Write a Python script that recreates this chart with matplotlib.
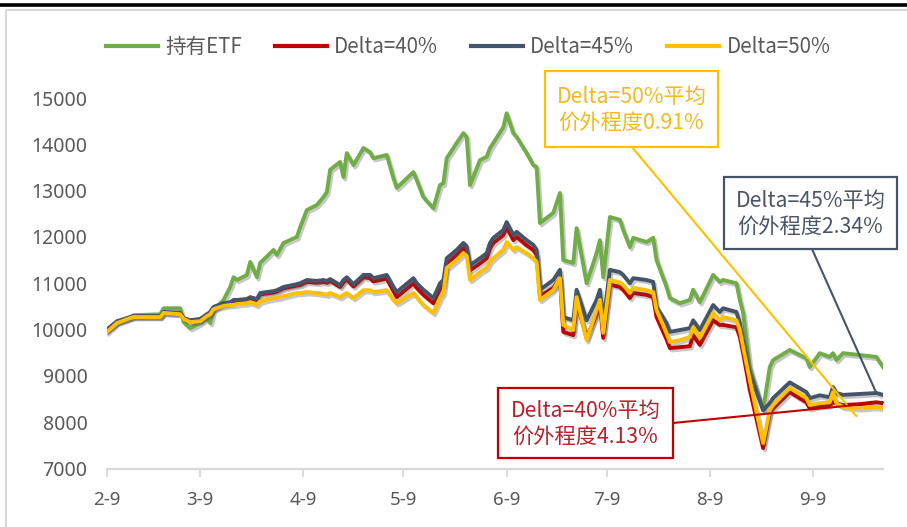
import matplotlib
matplotlib.use("Agg")
import matplotlib.pyplot as plt
import matplotlib.patheffects as pe
import matplotlib.dates as mdates
from matplotlib.patches import Rectangle, ConnectionPatch
from matplotlib.lines import Line2D
import pandas as pd

# ---- data -------------------------------------------------------------
dates = [
    "2015-02-09", "2015-02-12", "2015-02-16", "2015-02-17", "2015-02-25", "2015-02-26",
    "2015-03-03", "2015-03-04", "2015-03-06", "2015-03-09", "2015-03-11", "2015-03-12",
    "2015-03-13", "2015-03-16", "2015-03-18", "2015-03-19", "2015-03-20", "2015-03-23",
    "2015-03-24", "2015-03-26", "2015-03-27", "2015-03-31", "2015-04-01", "2015-04-03",
    "2015-04-07", "2015-04-08", "2015-04-10", "2015-04-13", "2015-04-15", "2015-04-16",
    "2015-04-17", "2015-04-20", "2015-04-21", "2015-04-22", "2015-04-24", "2015-04-27",
    "2015-04-29", "2015-04-30", "2015-05-04", "2015-05-06", "2015-05-07", "2015-05-12",
    "2015-05-13", "2015-05-15", "2015-05-18", "2015-05-20", "2015-05-21", "2015-05-22",
    "2015-05-25", "2015-05-27", "2015-05-28", "2015-05-29", "2015-06-01", "2015-06-03",
    "2015-06-04", "2015-06-05", "2015-06-08", "2015-06-09", "2015-06-11", "2015-06-12",
    "2015-06-15", "2015-06-17", "2015-06-18", "2015-06-19", "2015-06-23", "2015-06-25",
    "2015-06-26", "2015-06-29", "2015-06-30", "2015-07-03", "2015-07-06", "2015-07-07",
    "2015-07-08", "2015-07-10", "2015-07-13", "2015-07-14", "2015-07-16", "2015-07-17",
    "2015-07-21", "2015-07-23", "2015-07-24", "2015-07-27", "2015-07-28", "2015-07-31",
    "2015-08-03", "2015-08-04", "2015-08-06", "2015-08-10", "2015-08-12", "2015-08-13",
    "2015-08-17", "2015-08-18", "2015-08-19", "2015-08-21", "2015-08-25", "2015-08-27",
    "2015-08-28", "2015-09-02", "2015-09-07", "2015-09-08", "2015-09-11", "2015-09-14",
    "2015-09-15", "2015-09-16", "2015-09-18", "2015-09-23", "2015-09-28", "2015-09-30",
]

etf = [
    10000, 10160, 10270, 10310, 10330, 10460, 10460, 10160, 10030, 10140, 10250, 10140,
    10420, 10640, 10920, 11130, 11070, 11180, 11460, 11130, 11440, 11720, 11610, 11870,
    12000, 12210, 12580, 12690, 12860, 12970, 13450, 13620, 13290, 13810, 13550, 13920,
    13830, 13700, 13770, 13270, 13060, 13400, 13230, 12860, 12620, 13120, 13160, 13700,
    14030, 14240, 14160, 13120, 13660, 13730, 13920, 14030, 14370, 14670, 14240, 14160,
    13810, 13550, 13510, 12300, 12520, 12950, 11500, 11440, 12190, 11000, 11650, 11930,
    11130, 12430, 12370, 12150, 11780, 11980, 11890, 11980, 11500, 10920, 10680, 10570,
    10640, 10860, 10590, 11180, 11030, 11070, 11000, 10640, 10360, 9190, 8260, 9190,
    9340, 9560, 9380, 9190, 9490, 9410, 9490, 9340, 9490, 9450, 9410, 9190,
]

delta40 = [
    9990, 10170, 10260, 10280, 10280, 10370, 10350, 10240, 10190, 10220, 10320, 10360,
    10470, 10550, 10570, 10620, 10620, 10640, 10680, 10640, 10760, 10800, 10820, 10890,
    10950, 10960, 11030, 11010, 11030, 11010, 11050, 10920, 11020, 11080, 10930, 11130,
    11110, 11040, 11100, 10830, 10700, 11000, 10900, 10750, 10570, 10880, 10960, 11430,
    11610, 11760, 11690, 11280, 11430, 11540, 11760, 11870, 12040, 12210, 11930, 12000,
    11820, 11720, 11610, 10720, 10900, 11100, 9950, 9880, 10600, 9820, 10320, 10540,
    9820, 10970, 10920, 10860, 10680, 10790, 10750, 10700, 10270, 9790, 9600, 9620,
    9640, 9880, 9670, 10200, 10100, 10100, 10050, 9840, 9490, 8700, 7440, 8200,
    8300, 8650, 8430, 8300, 8350, 8370, 8430, 8410, 8370, 8390, 8430, 8410,
]

delta45 = [
    10000, 10180, 10270, 10290, 10290, 10380, 10360, 10250, 10200, 10230, 10330, 10380,
    10490, 10570, 10590, 10640, 10640, 10660, 10700, 10660, 10790, 10830, 10850, 10920,
    10980, 11000, 11070, 11050, 11070, 11050, 11090, 10960, 11070, 11130, 10980, 11180,
    11180, 11110, 11180, 10920, 10810, 11110, 11000, 10860, 10680, 11000, 11070, 11540,
    11720, 11870, 11800, 11390, 11540, 11650, 11870, 11980, 12150, 12320, 12040, 12110,
    11930, 11830, 11720, 10860, 11070, 11290, 10270, 10200, 10860, 10200, 10640, 10860,
    10140, 11290, 11240, 11180, 11000, 11110, 11070, 11030, 10490, 10140, 9950, 9990,
    10030, 10200, 9990, 10530, 10380, 10460, 10380, 10140, 9770, 9060, 8260, 8410,
    8520, 8860, 8650, 8520, 8580, 8540, 8760, 8630, 8590, 8610, 8630, 8590,
]

delta50 = [
    9950, 10140, 10250, 10270, 10270, 10360, 10330, 10230, 10160, 10180, 10290, 10330,
    10440, 10510, 10530, 10530, 10550, 10570, 10590, 10530, 10610, 10680, 10680, 10720,
    10790, 10790, 10810, 10790, 10770, 10750, 10790, 10700, 10750, 10790, 10680, 10850,
    10850, 10810, 10850, 10640, 10570, 10790, 10700, 10530, 10360, 10680, 10790, 11330,
    11500, 11650, 11590, 11070, 11240, 11330, 11460, 11540, 11720, 11890, 11720, 11780,
    11650, 11540, 11460, 10640, 10850, 11110, 10100, 9990, 10700, 9770, 10420, 10640,
    9930, 11070, 11020, 10960, 10790, 10900, 10850, 10810, 10420, 9920, 9730, 9770,
    9840, 10050, 9820, 10360, 10200, 10270, 10200, 9990, 9620, 8910, 7550, 8260,
    8370, 8740, 8520, 8370, 8410, 8430, 8650, 8410, 8330, 8300, 8330, 8300,
]

series_names = ["持有ETF", "Delta=40%", "Delta=45%", "Delta=50%"]
series_colors = ["#70AD47", "#C00000", "#44546A", "#FFC000"]

tick_dates = ["2015-02-09", "2015-03-09", "2015-04-09", "2015-05-09",
              "2015-06-09", "2015-07-09", "2015-08-09", "2015-09-09"]
tick_labels = ["2-9", "3-9", "4-9", "5-9", "6-9", "7-9", "8-9", "9-9"]
y_ticks = [7000, 8000, 9000, 10000, 11000, 12000, 13000, 14000, 15000]

note_texts = ["Delta=50%平均\n价外程度0.91%",
              "Delta=45%平均\n价外程度2.34%",
              "Delta=40%平均\n价外程度4.13%"]
note_text_colors = ["#F2BA1D", "#4A5568", "#B8202A"]
note_edge_colors = ["#FFC000", "#44546A", "#C00000"]
note_targets = [("2015-09-22", 8130), ("2015-09-28", 8630), ("2015-09-30", 8430)]

# ---- figure -----------------------------------------------------------
W, H = 907, 527
plt.rcParams["font.family"] = ["Noto Sans CJK SC", "DejaVu Sans"]
fig = plt.figure(figsize=(W / 100, H / 100), dpi=100)
fig.patch.set_facecolor("white")

x0, x1 = 107, 883
y_top, y_bot = 98, 468.5
ax = fig.add_axes([x0 / W, (H - y_bot) / H, (x1 - x0) / W, (y_bot - y_top) / H])


def dnum(s):
    return mdates.date2num(pd.Timestamp(s).to_pydatetime())


t = [dnum(d) for d in dates]
all_series = [etf, delta40, delta45, delta50]
for vals, name, col in zip(all_series, series_names, series_colors):
    ax.plot(t, vals, color=col, lw=2.8, solid_joinstyle="round", label=name,
            path_effects=[pe.SimpleLineShadow(offset=(1.3, -1.7), shadow_color="#555555",
                                              alpha=0.33, rho=1.0),
                          pe.Normal()])

ax.set_xlim(dnum("2015-02-09"), dnum("2015-09-30"))
ax.set_ylim(7000, 15000)
ax.set_xticks([dnum(d) for d in tick_dates])
ax.set_xticklabels(tick_labels)
ax.set_yticks(y_ticks)
ax.set_yticklabels([str(v) for v in y_ticks])

for side in ["top", "right", "left"]:
    ax.spines[side].set_visible(False)
ax.spines["bottom"].set_color("#D9D9D9")
ax.spines["bottom"].set_linewidth(1.6)
ax.tick_params(axis="x", direction="out", length=6, width=1.4, color="#D9D9D9",
               labelcolor="#595959", labelsize=13.5, pad=10)
ax.tick_params(axis="y", length=0, labelcolor="#595959", labelsize=14, pad=14)
for lab in ax.get_xticklabels() + ax.get_yticklabels():
    lab.set_family(["Noto Sans", "DejaVu Sans"])

# legend
handles = [Line2D([], [], color=c, lw=3.0) for c in series_colors]
fig.legend(handles, series_names, loc="center", bbox_to_anchor=(468 / W, 1 - 47 / H),
           ncol=4, frameon=False, fontsize=14.8, handlelength=2.55, handletextpad=0.34,
           columnspacing=1.6, labelcolor="#595959")

# overlay in pixel coordinates for frame and callouts
ov = fig.add_axes([0, 0, 1, 1], zorder=5)
ov.set_xlim(0, W)
ov.set_ylim(H, 0)
ov.axis("off")
ov.patch.set_alpha(0)

ov.plot([0, W], [4.5, 4.5], color="black", lw=2.6, solid_capstyle="butt")
ov.add_patch(Rectangle((6, 10), W - 4, H + 10, fill=False, ec="#D4D4D4", lw=1.3))

boxes = [(545, 71, 173, 76), (724, 177, 173, 72), (498, 388, 175, 70)]
anchors = [(632, 147), (812, 249), (673, 423)]
for txt, tc, ec, (bx, by, bw, bh), anc, tgt in zip(note_texts, note_text_colors,
                                                   note_edge_colors, boxes, anchors,
                                                   note_targets):
    ov.add_patch(Rectangle((bx, by), bw, bh, fc="white", ec=ec, lw=1.6, zorder=3))
    ov.text(bx + bw / 2, by + bh / 2 + 1, txt, color=tc, fontsize=15.3, ha="center",
            va="center", linespacing=1.2, zorder=4,
            family=["Noto Sans CJK SC", "DejaVu Sans"])
    con = ConnectionPatch(xyA=anc, coordsA=ov.transData,
                          xyB=(dnum(tgt[0]), tgt[1]), coordsB=ax.transData,
                          color=ec, lw=1.5, zorder=2)
    fig.add_artist(con)

fig.savefig("out.png", dpi=100, facecolor="white")
